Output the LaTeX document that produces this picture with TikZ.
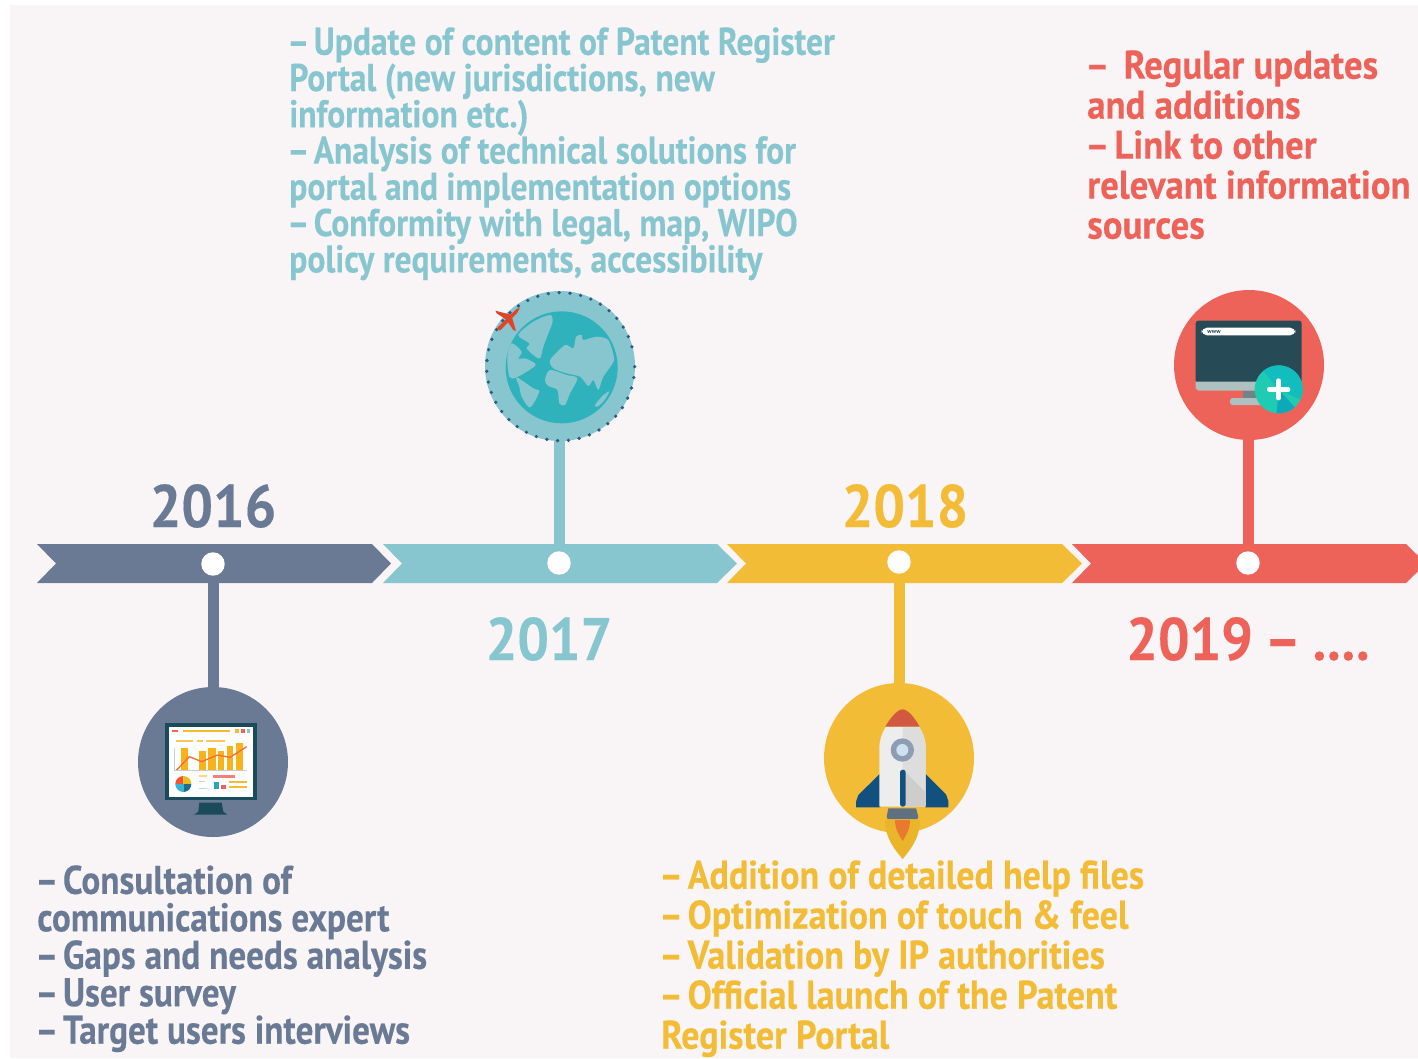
\documentclass[tikz,border=0pt]{standalone}
\usepackage{fontspec}
\setmainfont{PT Sans}[BoldFont=PT Sans Bold]
\newfontfamily\condA{PT Sans Bold}[FakeStretch=0.868,FakeBold=0.25]
\newfontfamily\condB{PT Sans Bold}[FakeStretch=0.9,FakeBold=0.25]
\newfontfamily\condC{PT Sans Bold}[FakeStretch=0.92,FakeBold=0.25]
\newfontfamily\condD{PT Sans Bold}[FakeStretch=0.88,FakeBold=0.25]
\newfontfamily\condY{PT Sans Bold}[FakeStretch=0.93,FakeBold=0.25]
\newcommand\dd{\kern-0.05em–\kern-0.11em\ }
\definecolor{panel}{HTML}{F9F5F7}
\definecolor{slate}{HTML}{6A7A95}
\definecolor{teal}{HTML}{87C5CF}
\definecolor{amber}{HTML}{F2BC36}
\definecolor{coral}{HTML}{EE6359}
\definecolor{darkmon}{HTML}{1B4A5A}
\definecolor{chartbar}{HTML}{F9B31A}
\tikzset{
  hx/.code={\definecolor{tmpc}{HTML}{#1}\tikzset{fill=tmpc}},
  dotnode/.style={circle,fill=white,minimum size=17.6pt,inner sep=0pt},
  stem/.style={line width=8.25pt,draw=#1},
  disc/.style={circle,fill=#1,minimum size=112.5pt,inner sep=0pt},
  yearlabel/.style={text=#1,font=\condY\fontsize{45}{45}\selectfont,inner sep=0pt,anchor=base},
  block/.style={text=#1,font=\condA\fontsize{29}{27.2}\selectfont,inner sep=0pt,anchor=north west,align=left},
  zoomscope/.style={shift={#1},x=0.25pt,y=-0.25pt}
}
\begin{document}
\begin{tikzpicture}[x=0.75pt,y=-0.75pt]
\useasboundingbox (0,0) rectangle (1418,1058);
\fill[white] (0,0) rectangle (1418,1058);
\fill[panel] (10,5) rectangle (1418,1058);
% bars
\begin{scope}
\clip (0,0) rectangle (1418,1058);
\fill[slate] (37,544) -- (372,544) -- (391,563.5) -- (372,583) -- (37,583) -- (56,563.5) -- cycle;
\fill[teal] (383,544) -- (717,544) -- (737,563.5) -- (717,583) -- (383,583) -- (402,563.5) -- cycle;
\fill[amber] (727,544) -- (1062,544) -- (1082,563.5) -- (1062,583) -- (727,583) -- (746,563.5) -- cycle;
\fill[coral] (1072,544) -- (1406,544) -- (1426,563.5) -- (1406,583) -- (1072,583) -- (1091,563.5) -- cycle;
\end{scope}
% discs and dots
\node[disc=slate] (c16) at (213,762) {};
\node[disc=teal] (c17) at (560,366) {};
\node[disc=amber] (c18) at (899,758) {};
\node[disc=coral] (c19) at (1249,365) {};
\node[dotnode] (d16) at (213,564) {};
\node[dotnode] (d17) at (559,563) {};
\node[dotnode] (d18) at (899,562) {};
\node[dotnode] (d19) at (1248,563) {};
% connectors
\draw[stem=slate] (d16.south) -- (d16.south |- c16.north);
\draw[stem=teal] (d17.north) -- (d17.north |- c17.south);
\draw[stem=amber] (d18.south) -- (d18.south |- c18.north);
\draw[stem=coral] (d19.north) -- (d19.north |- c19.south);
% icon 2016
\begin{scope}[zoomscope={(120,680)}]
\fill[darkmon] (135,128) rectangle (410,360);
\fill[white] (146,140) rectangle (400,350);
\fill[darkmon] (238,368) -- (305,368) -- (310,395) -- (322,404) -- (222,404) -- (235,395) -- cycle;
\fill[amber] (190,149) rectangle (330,157);
\fill[coral] (155,149) rectangle (175,157);
\fill[amber] (346,148) rectangle (356,158);
\fill[coral] (364,148) rectangle (374,158);
\fill[teal] (381,148) rectangle (391,158);
\fill[amber!80] (167,180) rectangle (220,185);
\fill[amber!80] (231,180) rectangle (248,185);
\fill[amber!80] (258,180) rectangle (314,185);
\draw[gray!40,line width=0.5pt] (163,205) -- (163,272) -- (382,272);
\fill[chartbar] (183,205) rectangle (203,270);
\fill[chartbar] (237,213) rectangle (257,270);
\fill[chartbar] (265,205) rectangle (288,270);
\fill[chartbar] (293,212) rectangle (313,270);
\fill[chartbar] (320,197) rectangle (340,270);
\fill[chartbar] (347,190) rectangle (368,270);
\draw[coral!70!orange,line width=1pt] (170,270) -- (208,230) -- (245,245) -- (292,225) -- (330,232) -- (380,200);
\fill[hx=F0562F] (190,312) -- (166,312) arc[start angle=180,end angle=270,radius=24] -- cycle;
\fill[hx=E9BE1E] (190,312) -- (190,288) arc[start angle=270,end angle=360,radius=24] -- cycle;
\fill[hx=1D6F8C] (190,312) -- (214,312) arc[start angle=0,end angle=90,radius=24] -- cycle;
\fill[hx=35B4D6] (190,312) -- (190,336) arc[start angle=90,end angle=180,radius=24] -- cycle;
\fill[coral!80] (280,284) rectangle (346,294);
\fill[amber!60] (236,285) rectangle (262,292);
\fill[hx=2BA6B5] (281,305) rectangle (296,328);
\fill[coral] (303,315) rectangle (318,328);
\fill[amber] (326,304) rectangle (380,309);
\fill[amber] (326,319) rectangle (380,324);
\fill[teal!60] (236,304) rectangle (256,307);
\fill[teal!60] (236,325) rectangle (262,328);
\end{scope}
% icon 2017
\begin{scope}[zoomscope={(470,280)}]
\fill[hx=2FB2BB] (275,262) circle[radius=168];
\fill[teal] plot[smooth cycle,tension=0.5] coordinates {(145,165) (190,125) (240,105) (248,125) (235,160) (220,200) (210,235) (190,225) (170,205) (178,190)};
\fill[teal] plot[smooth cycle,tension=0.5] coordinates {(140,292) (190,262) (195,250) (165,235) (145,236) (155,215) (125,190) (112,230) (118,290)};
\fill[teal] plot[smooth cycle,tension=0.5] coordinates {(140,292) (190,325) (208,335) (180,382) (155,350) (148,320)};
\fill[teal] plot[smooth cycle,tension=0.4] coordinates {(240,240) (285,195) (310,205) (318,170) (335,165) (340,180) (380,170) (415,180) (432,240) (400,290) (385,330) (370,300) (355,318) (330,290) (290,280) (250,265)};
\fill[teal] plot[smooth cycle,tension=0.5] coordinates {(225,300) (240,270) (290,285) (322,295) (300,340) (285,375) (268,370) (262,330) (235,318)};
\fill[teal] plot[smooth cycle,tension=0.5] coordinates {(375,375) (400,345) (418,335) (400,365) (382,380)};
\foreach \a in {0,8.4,...,352} \fill[hx=2E5A82] ({272+222*cos(\a)},{260+222*sin(\a)}) circle[radius=5.5];
\fill[hx=E0452A] (150,83) -- (138,88) -- (80,145) -- (90,152) -- (142,98) -- cycle;
\fill[hx=E0452A] (122,104) -- (76,92) -- (80,100) -- (108,118) -- cycle;
\fill[hx=E0452A] (126,112) -- (138,153) -- (130,150) -- (112,124) -- cycle;
\end{scope}
% icon 2018
\begin{scope}[zoomscope={(810,675)}]
\fill[hx=EAB52A] (225,435) -- (330,435) .. controls (330,490) and (300,525) .. (278,552) .. controls (255,525) and (225,490) .. (225,435) -- cycle;
\fill[hx=E8792F] (255,435) -- (300,435) .. controls (300,465) and (288,480) .. (278,498) .. controls (268,480) and (255,465) .. (255,435) -- cycle;
\fill[hx=5F7080] (235,400) -- (318,400) -- (325,425) -- (322,432) -- (233,432) -- (230,425) -- cycle;
\fill[hx=12507F] (211,295) -- (145,360) -- (138,380) -- (138,397) -- (211,397) -- cycle;
\fill[hx=12507F] (345,295) -- (408,358) -- (415,378) -- (415,397) -- (345,397) -- cycle;
\fill[hx=EDEDED] (228,155) -- (327,155) .. controls (340,175) and (347,195) .. (347,220) -- (347,395) -- (208,395) -- (208,220) .. controls (208,195) and (215,175) .. (228,155) -- cycle;
\fill[hx=DEDDDD] (278,155) -- (327,155) .. controls (340,175) and (347,195) .. (347,220) -- (347,390) -- (278,390) -- cycle;
\fill[hx=CFCCCC] (285,290) -- (347,352) -- (347,395) -- (285,395) -- cycle;
\fill[hx=D0593F] (226,155) .. controls (240,130) and (262,103) .. (278,103) .. controls (294,103) and (315,130) .. (329,155) -- cycle;
\fill[hx=8D9DB3] (277,225) circle[radius=35];
\fill[hx=CFE0F0] (277,225) circle[radius=18];
\fill[hx=12507F,rounded corners=2pt] (270,284) rectangle (287,395);
\end{scope}
% icon 2019
\begin{scope}[zoomscope={(1160,280)}]
\fill[hx=264B57,rounded corners=2pt] (107,122) rectangle (425,310);
\fill[hx=AEC0BF] (107,305) -- (425,305) -- (425,325) -- (417,332) -- (115,332) -- (107,325) -- cycle;
\fill[hx=6F8486] (248,333) rectangle (288,354);
\fill[hx=AEC0BF,rounded corners=2pt] (210,354) rectangle (320,375);
\fill[white,rounded corners=4pt] (125,143) rectangle (406,166);
\node[text=darkmon,font=\bfseries\fontsize{4.5}{5}\selectfont,inner sep=0pt] (www) at (162,155) {www};
\fill[hx=1FCBB2] (356,328) circle[radius=72];
\fill[hx=12BDBD] (356,328) -- (310,273) arc[start angle=230,end angle=385,radius=72] -- cycle;
\fill[hx=0EA9B8] (356,328) -- (404,382) arc[start angle=48,end angle=95,radius=72] -- cycle;
\draw[white,line width=3.6pt,line cap=round] (356,302) -- (356,354);
\draw[white,line width=3.6pt,line cap=round] (328,328) -- (384,328);
\end{scope}
% years
\node[yearlabel=slate] (y16) at (213,527) {2016};
\node[yearlabel=teal] (y17) at (549,660) {2017};
\node[yearlabel=amber] (y18) at (905,527) {2018};
\node[yearlabel=coral] (y19) at (1248,660) {2019\kern-2pt{} – \kern-2pt....};
% texts
\node[block=teal] (t17) at (289,27) {\dd Update of content of Patent Register\\Portal (new jurisdictions, new\\information etc.)\\\dd Analysis of technical solutions for\\portal and implementation options\\\dd Conformity with legal, map, WIPO\\policy requirements, accessibility};
\node[block=coral,font=\condC\fontsize{30}{30}\selectfont] (t19) at (1087,50) {\dd\ Regular updates\\and additions\\\dd Link to other\\relevant information\\sources};
\node[block=slate,font=\condD\fontsize{30}{28.1}\selectfont] (t16) at (37,865) {\dd Consultation of\\communications expert\\\dd Gaps and needs analysis\\\dd User survey\\\dd Target users interviews};
\node[block=amber,font=\condB\fontsize{30}{30}\selectfont] (t18) at (661,860) {\dd Addition of detailed help files\\\dd Optimization of touch \& feel\\\dd Validation by IP authorities\\\dd Official launch of the Patent\\Register Portal};
\end{tikzpicture}
\end{document}
